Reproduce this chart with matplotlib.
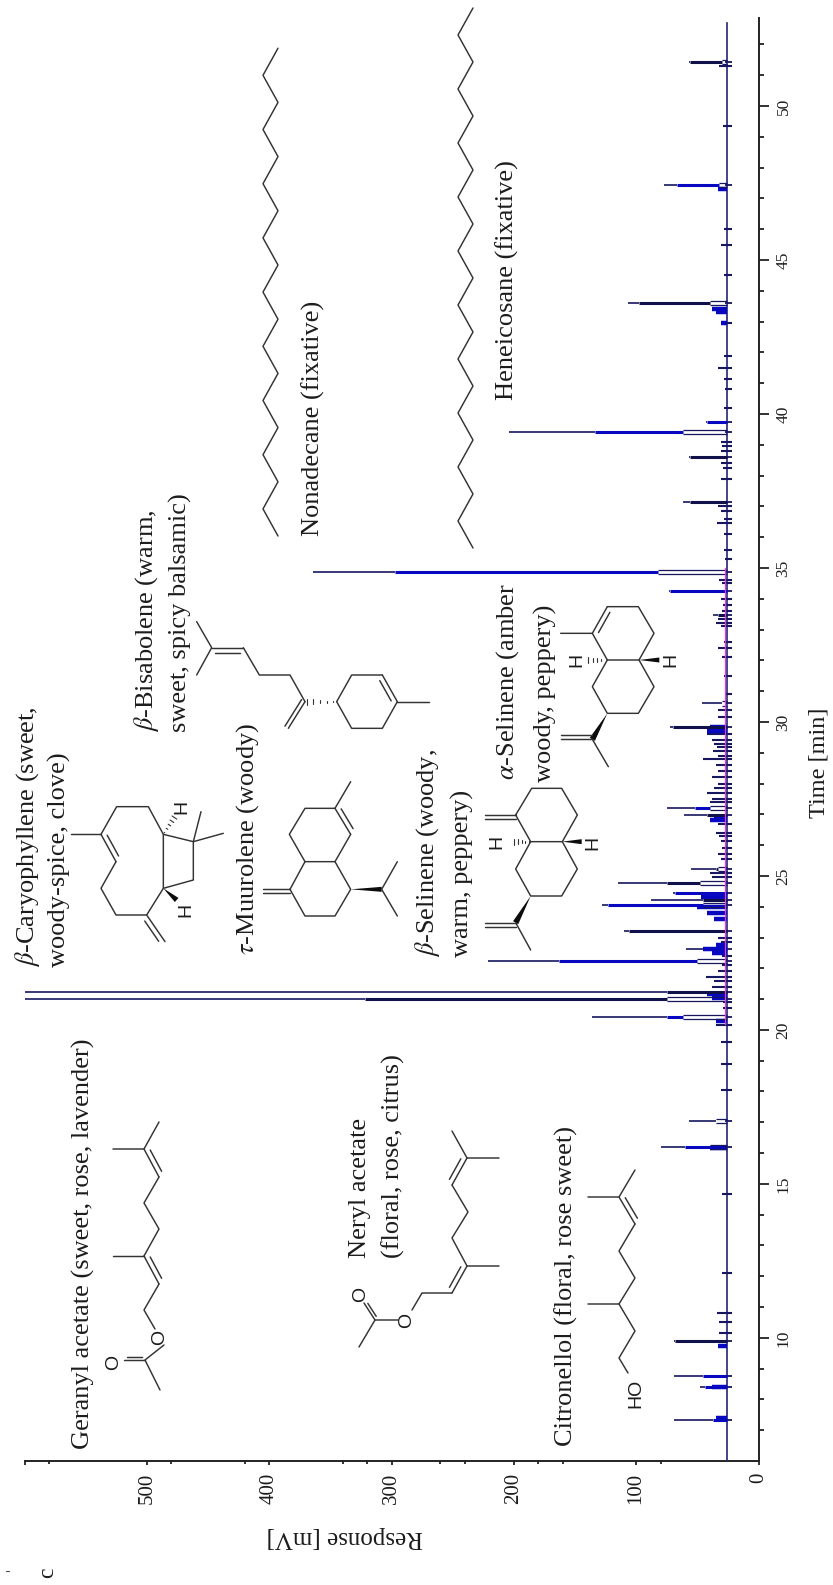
import numpy as np
import matplotlib
matplotlib.use("Agg")
import matplotlib.pyplot as plt
from matplotlib.patches import Polygon

plt.rcParams['font.family'] = ['Liberation Serif', 'DejaVu Serif']
plt.rcParams['mathtext.fontset'] = 'stix'

# ---------- data ----------
# retention time [min], apex [mV], where the thick part ends [mV], where the open double line ends [mV]
peak_time = [7.34, 8.39, 8.76, 9.9, 16.2, 17.05, 20.42, 21.0, 21.23, 22.24, 22.63, 23.2, 24.05, 24.22, 24.45,
             24.77, 25.23, 26.98, 27.2, 29.85, 30.6, 33.47, 34.25, 34.87, 37.15, 38.6, 39.42, 39.75, 43.6, 47.43, 51.43]
peak_top = [69, 48, 69, 69, 80, 57, 136, 600, 600, 221, 59, 110, 128, 88, 70,
            115, 55, 61, 75, 72, 46, 37, 73, 364, 62, 57, 204, 43, 107, 77, 57]
peak_mid = [37, 44, 45, 68, 60, 35, 75, 322, 75, 163, 45, 106, 123, 45, 68,
            75, 35, 42, 52, 70, 30, 33, 72, 297, 56, 56, 134, 42, 98, 67, 56]
peak_low = [0, 0, 0, 0, 40, 35, 62, 75, 0, 50, 0, 0, 45, 0, 0,
            48, 33, 0, 40, 0, 30, 0, 0, 82, 0, 0, 62, 0, 40, 32, 30]
peak_tone = ['b', 'b', 'b', 'k', 'b', 'k', 'b', 'k', 'k', 'b', 'b', 'k', 'b', 'k', 'b',
             'k', 'k', 'k', 'b', 'k', 'k', 'k', 'b', 'b', 'k', 'k', 'b', 'b', 'k', 'b', 'k']

small_time = [10.16, 10.5, 10.8, 12.1, 14.68, 18.05, 18.9, 19.6, 20.16, 20.7, 20.9, 21.4, 21.6, 21.72, 21.9, 22.1, 22.4,
              22.85, 23.0, 24.95, 25.1, 25.55, 25.7, 25.9, 26.15, 26.3, 26.4, 26.7, 27.4, 27.5, 27.7, 27.85, 28.0,
              28.2, 28.4, 28.6, 28.8, 28.9, 29.05, 29.2, 29.3, 29.4, 29.6, 30.15, 30.4, 30.9, 31.5, 32.1, 32.4, 32.6,
              33.1, 33.2, 33.35, 33.6, 33.8, 34.0, 34.5, 34.6, 35.3, 35.6, 36.1, 36.45, 36.6, 36.85, 37.0, 37.9,
              38.25, 38.4, 38.8, 38.95, 39.1, 40.2, 40.8, 41.15, 41.5, 41.9, 42.95, 44.5, 45.5, 46.0, 49.35, 51.3]
small_top = [32, 32, 34, 30, 30, 31, 31, 31, 35, 29, 29, 38, 36, 43, 33, 30, 30,
             31, 33, 38, 40, 31, 33, 30, 31, 32, 35, 33, 40, 38, 42, 36, 33,
             38, 33, 35, 45, 33, 37, 34, 36, 38, 42, 33, 33, 27, 28, 30, 33, 28,
             31, 35, 33, 30, 29, 31, 30, 32, 27, 28, 28, 34, 28, 31, 33, 31,
             29, 31, 31, 30, 31, 28, 27, 28, 33, 28, 31, 28, 31, 28, 29, 32]

hump_time = [7.4, 8.4, 9.72, 16.15, 20.3, 21.05, 21.15, 22.5, 22.63, 22.75, 23.6, 23.8, 24.0, 24.3, 26.8, 26.9,
             29.7, 29.85, 42.95, 43.3, 43.4, 47.3]
hump_top = [35, 38, 33, 40, 35, 38, 42, 38, 45, 35, 36, 42, 50, 47, 40, 36, 42, 40, 31, 35, 38, 33]

baseline = 25.5
time_major = [10, 15, 20, 25, 30, 35, 40, 45, 50]
time_minor = [7, 8, 9, 11, 12, 13, 14, 16, 17, 18, 19, 21, 22, 23, 24, 26, 27, 28, 29, 31, 32, 33, 34, 36, 37, 38, 39,
              41, 42, 43, 44, 46, 47, 48, 49, 51, 52]
resp_major = [0, 100, 200, 300, 400, 500, 600]
resp_labels = ['0', '100', '200', '300', '400', '500', '']
resp_minor = [80, 160, 180, 240, 260, 320, 340, 420, 480, 580]

NAVY = '#17175f'
BLUE = '#0808c0'
INK = '#1c1c1c'
BOND = '#333333'

# ---------- figure ----------
W, H = 833, 1585
fig = plt.figure(figsize=(W / 100, H / 100), dpi=100)
L, R, T, B = 24.5, 758.5, 18, 1461
ax = fig.add_axes([L / W, 1 - B / H, (R - L) / W, (B - T) / H])
ax.set_xlim(600, 0)
ax.set_ylim(6.0, 52.86)

for s in ('top', 'left'):
    ax.spines[s].set_visible(False)
for s in ('right', 'bottom'):
    ax.spines[s].set_linewidth(1.4)
    ax.spines[s].set_color('#222222')
ax.yaxis.tick_right()
ax.set_yticks(time_major)
ax.set_yticks(time_minor, minor=True)
ax.set_yticklabels([str(v) for v in time_major], rotation=90, va='center', fontsize=12.5, color=INK)
ax.set_xticks(resp_major)
ax.set_xticks(resp_minor, minor=True)
ax.set_xticklabels(resp_labels, rotation=90, ha='center', fontsize=15, color=INK)
ax.tick_params(axis='y', which='major', length=7.2, width=1.3, pad=5, color='#222222')
ax.tick_params(axis='y', which='minor', length=3.6, width=1.3, color='#222222')
ax.tick_params(axis='x', which='major', length=3.2, width=1.3, pad=5, color='#222222')
ax.tick_params(axis='x', which='minor', length=2.2, width=1.3, color='#222222')

ax.set_xlabel('Response [mV]', rotation=180, fontsize=18, color=INK, va='center', ha='center')
ax.xaxis.set_label_coords(0.4366, -0.0525)
ax.yaxis.set_label_position('right')
ax.set_ylabel('Time [min]', rotation=90, fontsize=17.5, color=INK, va='center', ha='center')
ax.yaxis.set_label_coords(1.082, 0.484)

# baseline and the integration line
ax.plot([baseline, baseline], [6.0, 52.7], color='#24247a', lw=1.2, zorder=3)
ax.plot([baseline + 1.5, baseline + 1.5], [20.2, 35.0], color='#e040d8', lw=0.9, zorder=4)

# small peaks
ax.hlines(small_time, 22, small_top, color=NAVY, lw=1.5, zorder=3)
ax.hlines(hump_time, baseline, hump_top, color=BLUE, lw=3.2, zorder=3)

# main peaks: a thin tip, a thick body and an open double line near the base
gap = 0.07
for t, top, mid, low, tone in zip(peak_time, peak_top, peak_mid, peak_low, peak_tone):
    ax.hlines(t, 22, baseline + 2, color=NAVY, lw=1.3, zorder=3)
    ax.hlines(t, mid, top, color=NAVY, lw=1.2, zorder=3)
    start = max(low, baseline)
    ax.hlines(t, start, mid, color=BLUE if tone == 'b' else '#10104a', lw=2.2, zorder=3)
    if low:
        ax.hlines([t - gap, t + gap], baseline, low, color=NAVY, lw=0.9, zorder=3)

# ---------- overlay in picture pixels for structures and annotations ----------
ov = fig.add_axes([0, 0, 1, 1], facecolor='none')
ov.set_xlim(0, W)
ov.set_ylim(H, 0)
ov.axis('off')


def z(x0, y0, pts, k=3.0):
    return [(x0 + a / k, y0 + b / k) for a, b in pts]


def bond(pts, lw=1.05):
    xs, ys = zip(*pts)
    ov.plot(xs, ys, color=BOND, lw=lw, solid_capstyle='round', solid_joinstyle='round')


def double(p, q, off=5.0, shrink=0.12):
    p, q = np.array(p, float), np.array(q, float)
    d = q - p
    n = np.array([-d[1], d[0]]) / np.hypot(*d)
    bond([p, q])
    bond([p + d * shrink + n * off, q - d * shrink + n * off])


def wedge(p, q, w=5.5):
    p, q = np.array(p, float), np.array(q, float)
    d = q - p
    n = np.array([-d[1], d[0]]) / np.hypot(*d)
    ov.add_patch(Polygon([p, q + n * w / 2, q - n * w / 2], color='#0c0c0c', lw=0))


def hashed(p, q, w=6.0, n=5):
    p, q = np.array(p, float), np.array(q, float)
    d = q - p
    u = np.array([-d[1], d[0]]) / np.hypot(*d)
    for f in np.linspace(0.1, 0.95, n):
        c = p + d * f
        bond([c - u * w * f / 2, c + u * w * f / 2], lw=0.8)


def atom(x, y, s):
    ov.text(x, y, s, rotation=90, ha='center', va='center', family='Liberation Sans', fontsize=14, color=INK)


def label(x, y, s):
    ov.text(x, y, s, rotation=90, ha='center', va='bottom', fontsize=19, color=INK)


# text
label(83, 1449, 'Geranyl acetate (sweet, rose, lavender)')
label(360, 1258, 'Neryl acetate')
label(393, 1258, '(floral, rose, citrus)')
label(566, 1446, 'Citronellol (floral, rose sweet)')
label(28, 967, r'$\beta$-Caryophyllene (sweet,')
label(59, 967, 'woody-spice, clove)')
label(248, 955, r'$\tau$-Muurolene (woody)')
label(147, 732, r'$\beta$-Bisabolene (warm,')
label(180, 732, 'sweet, spicy balsamic)')
label(428, 957, r'$\beta$-Selinene (woody,')
label(462, 957, 'warm, peppery)')
label(508, 780, r'$\alpha$-Selinene (amber')
label(545, 782, 'woody, peppery)')
label(313, 536, 'Nonadecane (fixative)')
label(507, 400, 'Heneicosane (fixative)')
ov.text(48, 1573, 'c', rotation=90, ha='center', va='center', fontsize=17, color=INK)
bond([(6, 1571), (9, 1571)], lw=0.7)

# n-alkanes
ys = 536 - 27.1 * np.arange(19)
bond(list(zip([278 if i % 2 == 0 else 263 for i in range(19)], ys)))
ys = 548 - 27.0 * np.arange(21)
bond(list(zip([473 if i % 2 == 0 else 458 for i in range(21)], ys)))

# geranyl acetate
bond([(113, 1256), (144, 1256)])
double((144, 1256), (159, 1284), off=-5)
bond([(159, 1284), (144, 1310), (155, 1329)])
bond([(164, 1345), (145, 1360), (160, 1390)])
double((145, 1360), (124, 1360), off=3)
atom(160, 1337, 'O')
atom(114, 1362, 'O')
bond([(144, 1256), (159, 1229), (144, 1203), (159, 1177)])
double((159, 1177), (144, 1149), off=5)
bond([(113, 1149), (144, 1149), (159, 1122)])

# neryl acetate
bond([(499, 1158), (467, 1158), (452, 1131)])
double((467, 1158), (452, 1185), off=5)
bond([(452, 1185), (468, 1212), (452, 1238), (467, 1266), (499, 1266)])
double((467, 1266), (452, 1293), off=5)
bond([(452, 1293), (422, 1293), (412, 1310)])
atom(407, 1320, 'O')
bond([(398, 1320), (375, 1320), (359, 1347)])
double((375, 1320), (364, 1303), off=3)
atom(361, 1294, 'O')

# citronellol
bond([(635, 1170), (619, 1197), (588, 1197)])
double((619, 1197), (635, 1224), off=-5)
bond([(635, 1224), (619, 1251), (635, 1278), (619, 1304), (588, 1304)])
bond([(619, 1304), (635, 1331), (619, 1358), (628, 1373)])
atom(636, 1393, 'HO')

# beta-caryophyllene
C = lambda *p: z(0, 800, p)
bond(C((212, 103), (303, 103)))
double(*C((303, 103), (348, 185)), off=-5)
bond(C((348, 185), (303, 265), (348, 345), (440, 345), (490, 265), (490, 103), (445, 20), (350, 20), (303, 103)))
double(*C((440, 345), (495, 425)), off=5)
bond(C((490, 103), (580, 125), (580, 240), (490, 265)))
bond(C((603, 35), (580, 125), (670, 100)))
wedge(*C((490, 265), (530, 300)))
hashed(*C((490, 103), (525, 50)))
atom(*C((558, 330))[0], 'H')
atom(*C((545, 22))[0], 'H')

# tau-muurolene
M = lambda *p: z(0, 800, p)
double(*M((790, 268), (870, 268)), off=4, shrink=0)
bond(M((870, 268), (915, 185), (1005, 185), (1052, 268), (1005, 348), (915, 348), (870, 268)))
bond(M((915, 185), (868, 103), (915, 25), (1005, 25)))
double(*M((1005, 25), (1052, 103)), off=-5)
bond(M((1052, 103), (1005, 185)))
bond(M((1005, 25), (1052, -55)))
wedge(*M((1052, 268), (1145, 268)), w=5)
bond(M((1192, 185), (1145, 268), (1192, 348)))

# beta-selinene
S = lambda *p: z(500, 770, p)
bond(S((47, 135), (95, 55), (185, 55), (232, 135), (187, 215), (92, 215), (47, 135)))
double((485, 815), (516, 815), off=4, shrink=0)
bond(S((92, 215), (47, 297), (92, 378), (185, 378), (232, 297), (187, 215)))
wedge(*S((92, 378), (47, 458)), w=6)
double((485, 923), (516, 923), off=4, shrink=0)
bond(S((47, 458), (92, 540)))
wedge(*S((187, 215), (245, 215)), w=5)
hashed(*S((92, 215), (40, 215)))
atom(*S((280, 220))[0], 'H')
atom(497, 842, 'H')

# alpha-selinene
A = lambda *p: z(500, 380, p)
double(*A((277, 760), (322, 680)), off=5)
bond(A((322, 680), (415, 680), (462, 760), (417, 840), (322, 840), (277, 760), (182, 760)))
bond(A((322, 840), (277, 920), (322, 1000), (415, 1000), (462, 920), (417, 840)))
wedge(*A((322, 1000), (277, 1078)), w=6)
double(*A((277, 1078), (182, 1078)), off=4, shrink=0)
bond(A((277, 1078), (325, 1160)))
wedge(*A((417, 840), (478, 840)), w=5)
hashed(*A((322, 840), (262, 840)))
atom(*A((512, 840))[0], 'H')
atom(*A((230, 840))[0], 'H')

# beta-bisabolene
Bz = lambda *p: z(0, 400, p)
bond(Bz((590, 665), (635, 743), (590, 825)))
double(*Bz((635, 743), (730, 743)), off=5)
bond(Bz((730, 743), (778, 825), (870, 825), (915, 905)))
double(*Bz((915, 905), (865, 985)), off=4, shrink=0)
hashed(*Bz((1010, 905), (915, 905)))
bond(Bz((1010, 905), (1055, 825), (1147, 825)))
double(*Bz((1147, 825), (1192, 905)), off=5)
bond(Bz((1192, 905), (1147, 985), (1055, 985), (1010, 905)))
bond(Bz((1192, 905), (1287, 905)))

fig.savefig('out.png', dpi=100)
